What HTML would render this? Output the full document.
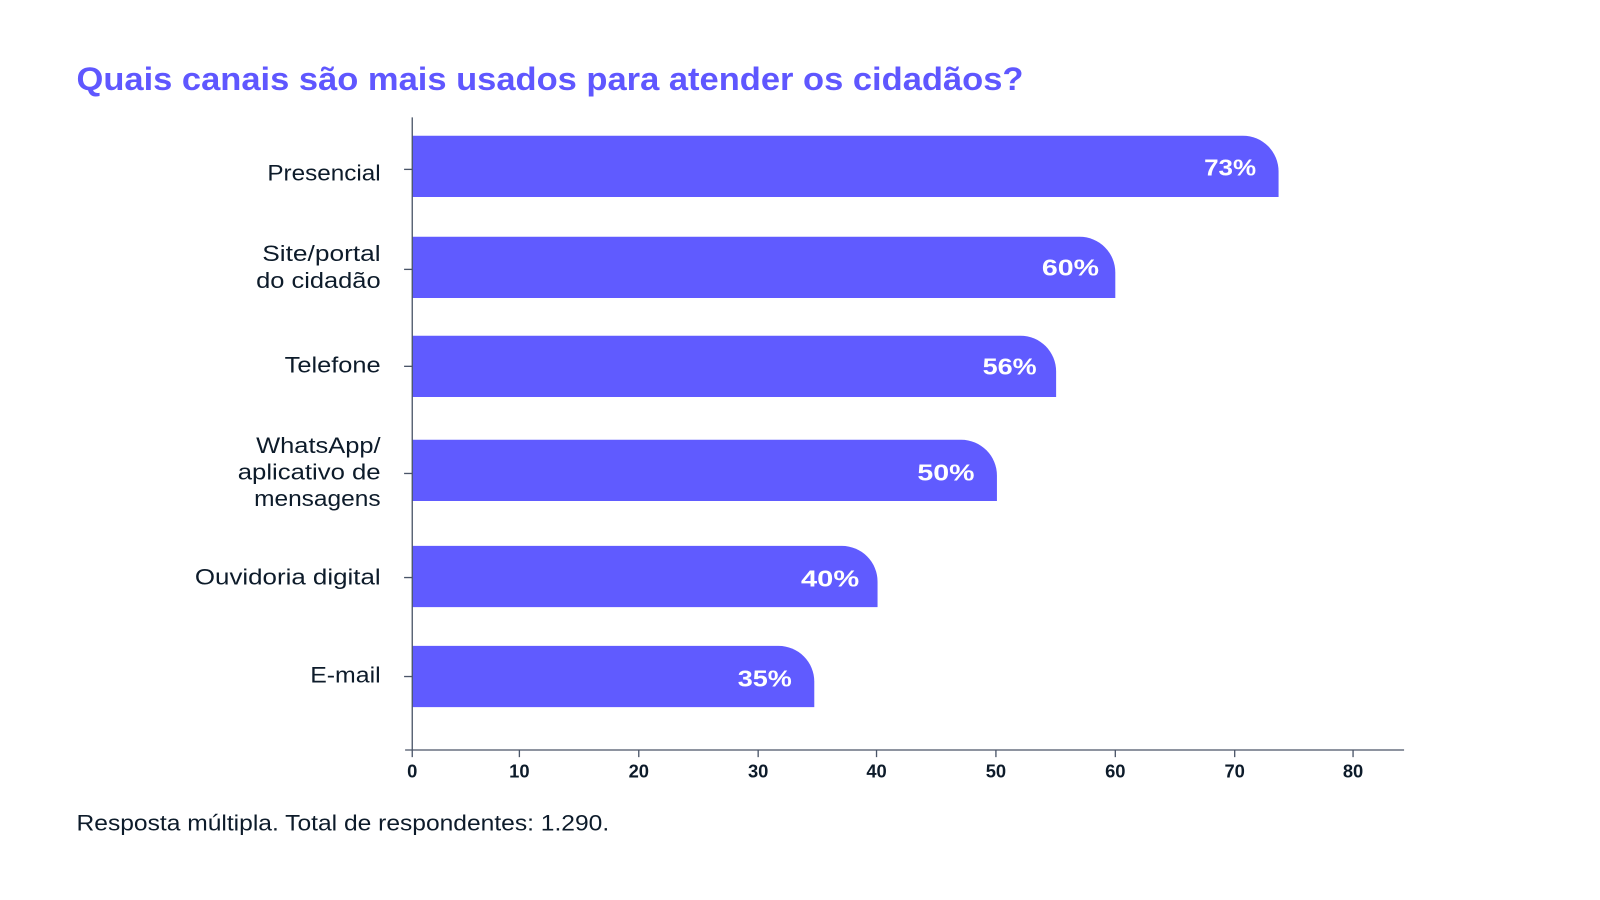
<!DOCTYPE html>
<html><head><meta charset="utf-8"><style>html,body{margin:0;padding:0;background:#fff}svg{display:block}</style></head>
<body>
<svg width="1600" height="900" viewBox="0 0 1568 882" xmlns="http://www.w3.org/2000/svg" font-family="Liberation Sans, sans-serif">
<rect width="1568" height="882" fill="#fff"/>
<text x="75" y="88" font-size="32" font-weight="bold" fill="#5F57FF" textLength="928" lengthAdjust="spacingAndGlyphs">Quais canais são mais usados para atender os cidadãos?</text>
<g fill="#605BFF">
<path d="M404 133 H1218 A35 35 0 0 1 1253 168 V193 H404 Z"/>
<path d="M404 232 H1058 A35 35 0 0 1 1093 267 V292 H404 Z"/>
<path d="M404 329 H1000 A35 35 0 0 1 1035 364 V389 H404 Z"/>
<path d="M404 431 H942 A35 35 0 0 1 977 466 V491 H404 Z"/>
<path d="M404 535 H825 A35 35 0 0 1 860 570 V595 H404 Z"/>
<path d="M404 633 H763 A35 35 0 0 1 798 668 V693 H404 Z"/>
</g>
<g fill="#fff" font-size="23" font-weight="bold" text-anchor="end" lengthAdjust="spacingAndGlyphs">
<text x="1231" y="172" textLength="51" lengthAdjust="spacingAndGlyphs">73%</text>
<text x="1077" y="270" textLength="56" lengthAdjust="spacingAndGlyphs">60%</text>
<text x="1016" y="367" textLength="53" lengthAdjust="spacingAndGlyphs">56%</text>
<text x="955" y="471" textLength="56" lengthAdjust="spacingAndGlyphs">50%</text>
<text x="842" y="575" textLength="57" lengthAdjust="spacingAndGlyphs">40%</text>
<text x="776" y="673" textLength="53" lengthAdjust="spacingAndGlyphs">35%</text>
</g>
<g stroke="#4a5568" stroke-width="1.3">
<line x1="404" y1="115" x2="404" y2="735"/>
<line x1="397" y1="735" x2="1376" y2="735"/>
<line x1="396" y1="166" x2="404" y2="166"/>
<line x1="396" y1="264" x2="404" y2="264"/>
<line x1="396" y1="359" x2="404" y2="359"/>
<line x1="396" y1="464" x2="404" y2="464"/>
<line x1="396" y1="566" x2="404" y2="566"/>
<line x1="396" y1="663" x2="404" y2="663"/>
<line x1="404" y1="735" x2="404" y2="742"/><line x1="509" y1="735" x2="509" y2="742"/><line x1="626" y1="735" x2="626" y2="742"/><line x1="743" y1="735" x2="743" y2="742"/><line x1="859" y1="735" x2="859" y2="742"/><line x1="976" y1="735" x2="976" y2="742"/><line x1="1093" y1="735" x2="1093" y2="742"/><line x1="1210" y1="735" x2="1210" y2="742"/><line x1="1326" y1="735" x2="1326" y2="742"/>
</g>
<g fill="#0d1b2a" font-size="18" font-weight="bold" text-anchor="middle">
<text x="404" y="762">0</text><text x="509" y="762">10</text><text x="626" y="762">20</text><text x="743" y="762">30</text><text x="859" y="762">40</text><text x="976" y="762">50</text><text x="1093" y="762">60</text><text x="1210" y="762">70</text><text x="1326" y="762">80</text>
</g>
<g fill="#0d1b2a" font-size="22" text-anchor="end">
<text x="373" y="177" textLength="111" lengthAdjust="spacingAndGlyphs">Presencial</text>
<text x="373" y="256" textLength="116" lengthAdjust="spacingAndGlyphs">Site/portal</text>
<text x="373" y="282" textLength="122" lengthAdjust="spacingAndGlyphs">do cidadão</text>
<text x="373" y="365" textLength="94" lengthAdjust="spacingAndGlyphs">Telefone</text>
<text x="373" y="444" textLength="122" lengthAdjust="spacingAndGlyphs">WhatsApp/</text>
<text x="373" y="470" textLength="140" lengthAdjust="spacingAndGlyphs">aplicativo de</text>
<text x="373" y="496" textLength="124" lengthAdjust="spacingAndGlyphs">mensagens</text>
<text x="373" y="573" textLength="182" lengthAdjust="spacingAndGlyphs">Ouvidoria digital</text>
<text x="373" y="669" textLength="69" lengthAdjust="spacingAndGlyphs">E-mail</text>
</g>
<text x="75" y="814" font-size="22" fill="#0d1b2a" textLength="522" lengthAdjust="spacingAndGlyphs">Resposta múltipla. Total de respondentes: 1.290.</text>
</svg>
</body></html>
